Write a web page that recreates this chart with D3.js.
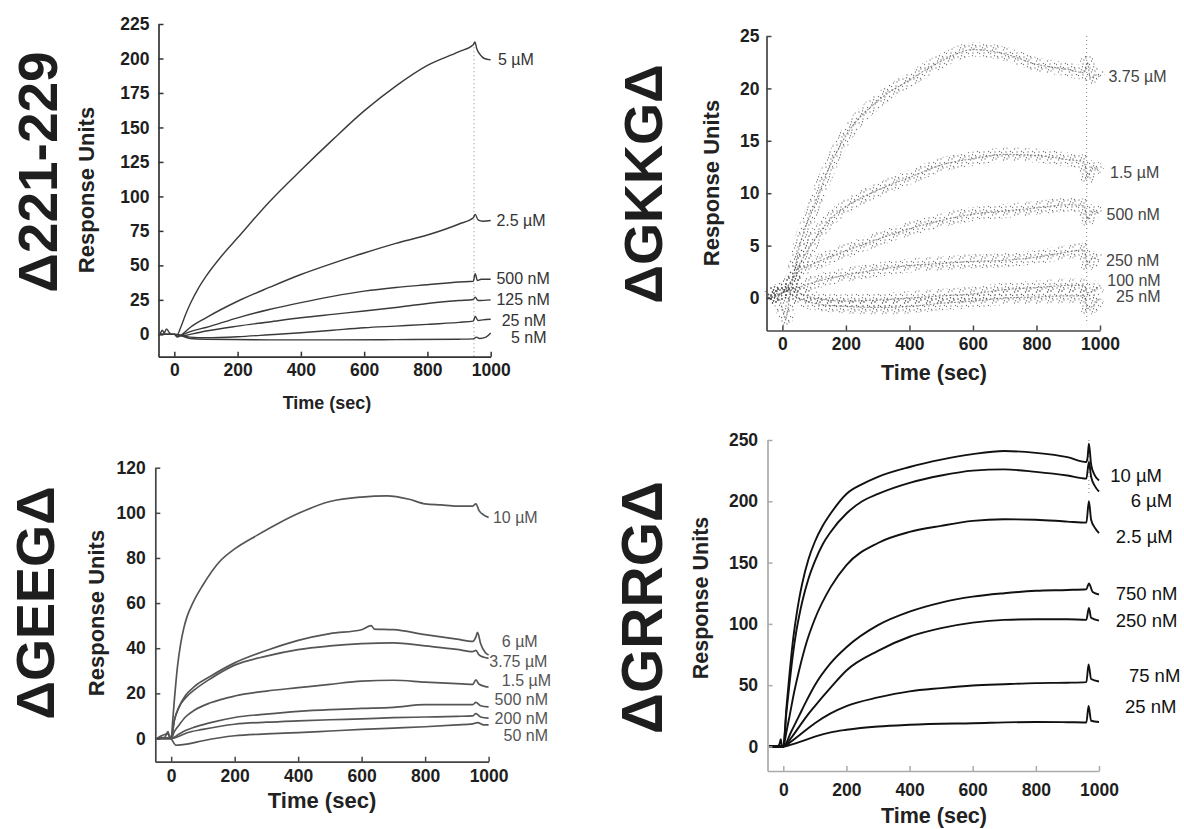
<!DOCTYPE html>
<html><head><meta charset="utf-8">
<script src="https://cdn.jsdelivr.net/npm/d3@7"></script>
<style>
body{margin:0;background:#fff}
svg{display:block}
text{font-family:"Liberation Sans",Arial,Helvetica,sans-serif}
.tick text{font-weight:bold}
</style>
</head><body>
<svg id="chart" width="1184" height="829"></svg>
<script>
// ---------------- DATA ----------------
const timeTicks = [0, 200, 400, 600, 800, 1000];

// Panel A: Δ221-229
const aTitle = "Δ221-229";
const aYTicks = [0, 25, 50, 75, 100, 125, 150, 175, 200, 225];
const aConcs = ["5 µM", "2.5 µM", "500 nM", "125 nM", "25 nM", "5 nM"];
const aSeries = [
  [[-45,0],[-38,3],[-32,1],[-25,4],[-18,2],[-10,0],[0,0],[10,0],[20,5],[35,14],[50,22],[75,33],[100,42],[150,57],[200,70],[300,96],[400,119],[500,141],[600,162],[700,180],[800,195],[900,205],[945,210],[950,212],[956,207],[966,203],[980,200],[1000,199]],
  [[-45,0],[0,0],[10,-2],[25,0],[50,5],[100,12],[200,24],[300,34],[400,43.4],[500,51.5],[600,59],[700,66],[800,72],[900,80],[945,84.5],[951,87],[960,83],[975,82],[1000,82.5]],
  [[-45,0],[0,0],[10,-1.5],[30,0],[50,2],[100,5],[200,12],[300,18],[400,23],[500,27.5],[600,31.3],[700,34],[800,36],[900,38],[945,38.5],[951,44],[958,39],[970,40],[1000,40]],
  [[-45,0],[0,0],[30,-1],[50,0],[100,2.4],[200,6],[300,9],[400,12],[500,14.5],[600,16.9],[700,19.5],[800,22.4],[900,24.5],[945,25.3],[951,27],[960,24.5],[1000,25]],
  [[-45,0],[0,0],[50,-2],[100,-2.4],[200,-1.7],[300,-0.3],[400,1.2],[500,3],[600,4.8],[700,6],[800,7.2],[900,8.7],[945,9.6],[951,13],[960,10],[975,10.5],[1000,11]],
  [[-45,0],[0,0],[50,-3],[100,-3.6],[300,-4],[500,-4],[700,-3.8],[900,-3.5],[945,-3.3],[955,-2],[965,-3],[985,-2],[1000,1]]
];
const aInjectionEnd = [[947, 211], [947, -16]];

// Panel B: ΔGKKGΔ
const bTitle = "ΔGKKGΔ";
const bYTicks = [0, 5, 10, 15, 20, 25];
const bConcs = ["3.75 µM", "1.5 µM", "500 nM", "250 nM", "100 nM", "25 nM"];
const bSeries = [
  [[-45,0],[-20,0.5],[0,-1],[10,-2],[25,0.5],[50,4.4],[100,8.8],[150,12.6],[200,15.5],[300,18.8],[400,20.8],[500,22.6],[600,23.7],[700,23.3],[800,22.3],[900,21.8],[950,21.5],[960,22.5],[970,21],[990,21.3],[1000,21]],
  [[-45,0],[0,0.5],[25,1.5],[50,3],[100,5.5],[150,7.5],[200,8.7],[300,10.3],[400,11.5],[500,12.7],[600,13.3],[700,13.7],[800,13.6],[900,13.2],[950,13],[960,11.5],[975,12.5],[1000,12]],
  [[-45,0],[0,0.5],[50,2.5],[100,3.3],[200,4.5],[300,5.6],[400,6.6],[500,7.4],[600,8],[700,8.3],[800,8.6],[900,8.9],[950,8.8],[960,7.5],[975,8.3],[1000,8]],
  [[-45,0],[0,0.5],[50,1],[100,1.5],[200,2.2],[300,2.7],[400,3.1],[500,3.3],[600,3.5],[700,3.6],[800,3.9],[900,4.4],[950,4.6],[960,3.2],[975,3.8],[1000,3.6]],
  [[-45,0],[0,0.8],[50,0.5],[100,0],[200,-0.3],[300,-0.2],[400,0],[500,0.2],[600,0.4],[700,0.8],[800,1],[900,1.2],[950,1.2],[960,0.5],[1000,1.2]],
  [[-45,0],[0,0.8],[50,0],[100,-0.5],[200,-0.8],[300,-0.9],[400,-0.8],[500,-0.5],[600,-0.3],[700,0],[800,0.1],[900,0.2],[950,0.2],[960,-1],[1000,0]]
];
const bInjectionEnd = [[958, 25], [958, -2.5]];

// Panel C: ΔGEEGΔ
const cTitle = "ΔGEEGΔ";
const cYTicks = [0, 20, 40, 60, 80, 100, 120];
const cConcs = ["10 µM", "6 µM", "3.75 µM", "1.5 µM", "500 nM", "200 nM", "50 nM"];
const cSeries = [
  [[-45,0],[-20,0.5],[-10,3],[-5,0],[0,0],[5,8],[10,17],[15,25],[20,32],[30,42],[40,49],[50,54],[68,60],[100,68],[150,78],[200,84],[270,90],[340,95.5],[405,100],[500,105],[600,107],[680,107.5],[750,106],[800,104],[850,103.5],[900,103],[950,103],[960,104],[970,101],[985,99],[1000,98]],
  [[-45,0],[0,0],[10,8],[25,14],[45,19],[73,23],[124,27.6],[200,33.5],[300,39],[400,43.5],[500,46.5],[600,48.2],[630,50],[640,48.5],[700,48.2],[800,46],[900,44],[950,43],[960,45],[965,47],[975,42],[990,38],[1000,37]],
  [[-45,0],[0,0],[10,8],[25,14],[45,18],[73,21.5],[124,26.5],[200,32.5],[300,36.5],[400,39.4],[500,41],[600,42],[700,42.4],[800,41],[900,39.5],[950,38.5],[960,39],[970,37],[985,36],[1000,35.5]],
  [[-45,0],[0,0],[10,3],[25,6],[45,9.5],[73,12.5],[124,15.8],[200,18.8],[300,21],[400,22.5],[500,24],[600,25.4],[700,25.8],[800,25],[900,24.3],[950,24],[960,26],[970,24],[990,23],[1000,22.8]],
  [[-45,0],[0,0],[25,2],[45,3.5],[73,5],[124,7],[200,9.3],[300,10.8],[400,12],[500,12.8],[600,13.3],[700,13.8],[800,15],[900,15],[950,15],[960,16],[975,14.5],[1000,14]],
  [[-45,0],[0,0],[25,1],[50,2.5],[100,4],[200,6.3],[300,7.2],[400,7.8],[500,8.3],[600,8.7],[700,9.2],[800,9.5],[900,9.8],[950,10],[960,11],[975,9.5],[1000,9]],
  [[-45,0],[-10,2],[0,0],[15,-3],[50,-2.5],[100,-1],[200,1.2],[300,2],[400,2.6],[500,3.3],[600,4],[700,4.6],[800,5.2],[900,6],[950,6.5],[965,7],[985,6],[1000,6]]
];

// Panel D: ΔGRRGΔ
const dTitle = "ΔGRRGΔ";
const dYTicks = [0, 50, 100, 150, 200, 250];
const dConcs = ["10 µM", "6 µM", "2.5 µM", "750 nM", "250 nM", "75 nM", "25 nM"];
const dSeries = [
  [[-45,0],[-20,0],[-12,2],[-8,6],[-4,0],[0,0],[10,32],[20,60],[30,85],[40,104],[50,120],[60,133],[80,153],[100,167],[125,180],[150,190],[200,206],[250,214],[300,220],[400,228],[500,234],[600,238.5],[700,241],[800,239.5],[900,236],[960,232],[964,236],[968,247],[975,230],[985,222],[1000,217]],
  [[-45,0],[0,0],[10,28],[20,52],[30,74],[40,92],[50,106],[60,118],[80,137],[100,151],[125,165],[150,175],[200,190],[250,200],[300,206],[400,215],[500,221],[600,225],[700,226],[800,224],[900,221],[960,218.5],[968,232],[975,220],[988,212],[1000,208]],
  [[-45,0],[0,0],[10,12],[20,25],[35,45],[50,62],[75,86],[100,104],[150,130],[200,148],[300,166],[400,175],[500,180],[600,184],[700,185.3],[800,185],[900,183.4],[960,182.6],[968,200],[975,185],[988,178],[1000,174]],
  [[-45,0],[0,0],[25,12],[50,25],[75,38],[100,50],[150,68],[200,81],[300,99],[400,110],[500,117.4],[600,122.2],[700,125],[800,127],[900,127.7],[960,128.3],[968,133],[980,126],[1000,124]],
  [[-45,0],[0,0],[25,7],[50,16],[75,25],[100,33],[150,48],[200,62],[300,78],[400,89.5],[500,96.5],[600,101],[700,103.3],[800,103.8],[900,103.8],[960,103.3],[968,113],[975,105],[1000,102.7]],
  [[-45,0],[0,0],[25,4],[50,9],[100,19],[150,27],[200,33],[300,40],[400,45],[500,47.6],[600,49.7],[700,50.8],[800,51.7],[900,52],[960,52.5],[967,67],[975,55],[1000,53]],
  [[-45,0],[0,0],[25,1.5],[50,3.5],[100,8],[150,11.5],[200,13.6],[300,16.3],[400,17.7],[600,19],[800,20],[900,19.8],[960,19.6],[967,33],[975,21],[1000,20]]
];
const dInjectionEnd = [[968, 250], [968, 205]];

// ---------------- LAYOUT ----------------
const panels = [
  { title: aTitle, yTicks: aYTicks, concs: aConcs, series: aSeries, inj: aInjectionEnd,
    xr: [158.5, 490.7], yd: [-16.2, 225], yr: [356.7, 24],
    axisColor: "#333", lineColor: "#3a3a3a", lineW: 1.4, style: "line",
    yPad: 9, xPad: 7, tickFs: 17.5,
    titlePos: [57, 172], titleFs: 55, ruPos: [93.5, 190], ruFs: 22,
    timePos: [327, 409], timeFs: 18,
    labelFs: 16, labelColor: "#333",
    labelPos: [[498,64.8],[496.4,226.2],[496.4,283.8],[496.4,304.8],[501.7,325.8],[511,343.2]] },
  { title: bTitle, yTicks: bYTicks, concs: bConcs, series: bSeries, inj: bInjectionEnd,
    xr: [766.5, 1100], yd: [-3.1, 25], yr: [330.5, 36],
    axisColor: "#444", lineColor: "#666", lineW: 1.2, style: "dots",
    yPad: 7, xPad: 7, tickFs: 17.5,
    titlePos: [661.5, 184], titleFs: 54, ruPos: [719, 183], ruFs: 22,
    timePos: [934, 380], timeFs: 21.5,
    labelFs: 16, labelColor: "#444",
    labelPos: [[1108.4,81.6],[1110,178.3],[1106.5,219.6],[1106,266.3],[1107.3,286.3],[1116,302.3]] },
  { title: cTitle, yTicks: cYTicks, concs: cConcs, series: cSeries, inj: null,
    xr: [155.3, 488.6], yd: [-10.3, 120], yr: [761.7, 467.7],
    axisColor: "#444", lineColor: "#555", lineW: 1.7, style: "line",
    yPad: 9.5, xPad: 7.6, tickFs: 17.5,
    titlePos: [53.6, 603], titleFs: 54, ruPos: [103.6, 613], ruFs: 22,
    timePos: [322, 808], timeFs: 22,
    labelFs: 16, labelColor: "#555",
    labelPos: [[492.9,522.9],[501.8,647.3],[489.3,667.3],[501.8,685.6],[494.6,704.9],[494.6,723.9],[503.6,740.6]] },
  { title: dTitle, yTicks: dYTicks, concs: dConcs, series: dSeries, inj: dInjectionEnd,
    xr: [767.5, 1099], yd: [-20, 250], yr: [771, 440],
    axisColor: "#aaa", lineColor: "#111", lineW: 1.9, style: "line",
    yPad: 9.4, xPad: 12.6, tickFs: 17.5,
    titlePos: [661.5, 607.5], titleFs: 57, ruPos: [708, 598], ruFs: 21.5,
    timePos: [934, 823], timeFs: 21.5,
    labelFs: 18.5, labelColor: "#111",
    labelPos: [[1110.2,481.5],[1130.7,506.5],[1115.8,543.2],[1115.8,599.8],[1115.8,626.5],[1128.9,681.5],[1125,713.2]] }
];

// ---------------- DRAW ----------------
const svg = d3.select("#chart");
svg.append("rect").attr("width", 1184).attr("height", 829).attr("fill", "#fff");

// speckle pattern for the noisy (scatter) sensorgrams
const defs = svg.append("defs");
const pat = defs.append("pattern").attr("id", "speckle")
  .attr("patternUnits", "userSpaceOnUse").attr("width", 11).attr("height", 11);
[[1,2],[4.5,0.8],[8,3],[2.5,6],[6,5],[9.5,8.5],[0.5,9.5],[5,9],[7.5,1.5],[3.5,3.8]]
  .forEach(p => pat.append("circle").attr("cx", p[0]).attr("cy", p[1]).attr("r", 0.7).attr("fill", "#555"));

panels.forEach(cfg => {
  const g = svg.append("g");
  const x = d3.scaleLinear().domain([-50, 1000]).range(cfg.xr);
  const y = d3.scaleLinear().domain(cfg.yd).range(cfg.yr);

  const line = d3.line().x(d => x(d[0])).y(d => y(d[1])).curve(d3.curveMonotoneX);

  // injection-end transient (sparse dots)
  if (cfg.inj) {
    g.append("path").attr("d", d3.line().x(d => x(d[0])).y(d => y(d[1]))(cfg.inj))
      .attr("stroke", "#999").attr("stroke-width", 1.2).attr("stroke-dasharray", "1 3").attr("fill", "none");
  }

  // series
  cfg.series.forEach(s => {
    if (cfg.style === "dots") {
      g.append("path").attr("d", line(s)).attr("fill", "none")
        .attr("stroke", "url(#speckle)").attr("stroke-width", 14).attr("opacity", 0.8);
      g.append("path").attr("d", line(s)).attr("fill", "none")
        .attr("stroke", cfg.lineColor).attr("stroke-width", cfg.lineW)
        .attr("stroke-dasharray", "1 2.5").attr("stroke-linecap", "round").attr("opacity", 0.7);
    } else {
      g.append("path").attr("d", line(s)).attr("fill", "none")
        .attr("stroke", cfg.lineColor).attr("stroke-width", cfg.lineW)
        .attr("stroke-linejoin", "round");
    }
  });

  // axes
  const xAxis = d3.axisBottom(x).tickValues(timeTicks).tickFormat(d3.format("d"))
    .tickSizeInner(-5).tickSizeOuter(0).tickPadding(cfg.xPad);
  const yAxis = d3.axisLeft(y).tickValues(cfg.yTicks).tickFormat(d3.format("d"))
    .tickSizeInner(-5).tickSizeOuter(0).tickPadding(cfg.yPad);
  const gx = g.append("g").attr("transform", `translate(0,${cfg.yr[0]})`).call(xAxis);
  const gy = g.append("g").attr("transform", `translate(${cfg.xr[0]},0)`).call(yAxis);
  [gx, gy].forEach(ax => {
    ax.attr("font-family", null).attr("font-size", null);
    ax.select(".domain").attr("stroke", cfg.axisColor).attr("stroke-width", 1.7);
    ax.selectAll(".tick line").attr("stroke", cfg.axisColor).attr("stroke-width", 1.5);
    ax.selectAll(".tick text")
      .style("font-size", cfg.tickFs + "px").style("font-weight", "700")
      .style("font-family", '"Liberation Sans", Arial, sans-serif').attr("fill", "#1e1e1e");
  });

  // titles
  g.append("text").attr("transform", `translate(${cfg.titlePos[0]},${cfg.titlePos[1]}) rotate(-90)`)
    .attr("text-anchor", "middle").attr("font-size", cfg.titleFs).attr("font-weight", "bold")
    .attr("fill", "#1e1e1e").text(cfg.title);
  g.append("text").attr("transform", `translate(${cfg.ruPos[0]},${cfg.ruPos[1]}) rotate(-90)`)
    .attr("text-anchor", "middle").attr("font-size", cfg.ruFs).attr("font-weight", "bold")
    .attr("fill", "#222").text("Response Units");
  g.append("text").attr("x", cfg.timePos[0]).attr("y", cfg.timePos[1])
    .attr("text-anchor", "middle").attr("font-size", cfg.timeFs).attr("font-weight", "bold")
    .attr("fill", "#222").text("Time (sec)");

  // concentration labels
  cfg.concs.forEach((c, i) => {
    g.append("text").attr("x", cfg.labelPos[i][0]).attr("y", cfg.labelPos[i][1])
      .attr("font-size", cfg.labelFs).attr("fill", cfg.labelColor).text(c);
  });
});
</script>
</body></html>
